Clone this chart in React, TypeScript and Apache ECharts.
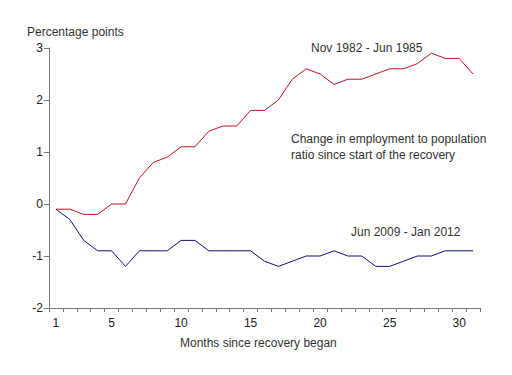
import React, { useEffect, useRef } from "react";
import * as echarts from "echarts";

const months: string[] = Array.from({ length: 31 }, (_, i) => String(i + 1));
const labeledMonths: number[] = [1, 5, 10, 15, 20, 25, 30];
const yTicks = { min: -2, max: 3, interval: 1 };

const recovery1982: number[] = [
  -0.1, -0.1, -0.2, -0.2, 0, 0, 0.5, 0.8, 0.9, 1.1, 1.1, 1.4, 1.5, 1.5, 1.8, 1.8,
  2.0, 2.4, 2.6, 2.5, 2.3, 2.4, 2.4, 2.5, 2.6, 2.6, 2.7, 2.9, 2.8, 2.8, 2.5,
];
const recovery2009: number[] = [
  -0.1, -0.3, -0.7, -0.9, -0.9, -1.2, -0.9, -0.9, -0.9, -0.7, -0.7, -0.9, -0.9, -0.9, -0.9, -1.1,
  -1.2, -1.1, -1.0, -1.0, -0.9, -1.0, -1.0, -1.2, -1.2, -1.1, -1.0, -1.0, -0.9, -0.9, -0.9,
];

const FONT = "'Liberation Sans', Arial, sans-serif";
const TEXT = "#333333";

export default function App() {
  const ref = useRef<HTMLDivElement>(null);
  useEffect(() => {
    if (!ref.current) return;
    const chart = echarts.init(ref.current, null, { renderer: "svg" });
    chart.setOption({
      animation: false,
      backgroundColor: "#ffffff",
      grid: { left: 49, right: 32, top: 48, bottom: 67 },
      xAxis: {
        type: "category",
        data: months,
        boundaryGap: true,
        axisLine: { onZero: false, lineStyle: { color: "#777777", width: 1 } },
        axisTick: { show: true, interval: 0, length: 4, lineStyle: { color: "#777777" } },
        axisLabel: {
          interval: (idx: number) => labeledMonths.includes(idx + 1),
          color: "#222222",
          fontFamily: FONT,
          fontSize: 12,
          margin: 9,
        },
        splitLine: { show: false },
      },
      yAxis: {
        type: "value",
        min: yTicks.min,
        max: yTicks.max,
        interval: yTicks.interval,
        axisLine: { show: true, onZero: false, lineStyle: { color: "#777777", width: 1 } },
        axisTick: { show: true, length: 5, lineStyle: { color: "#777777" } },
        axisLabel: { color: "#222222", fontFamily: FONT, fontSize: 12, margin: 6 },
        splitLine: { show: false },
      },
      series: [
        {
          type: "line",
          data: recovery1982,
          symbol: "none",
          lineStyle: { color: "#c0141e", width: 1 },
        },
        {
          type: "line",
          data: recovery2009,
          symbol: "none",
          lineStyle: { color: "#10107a", width: 1 },
        },
      ],
      graphic: [
        {
          type: "text",
          left: 27,
          top: 26,
          style: { text: "Percentage points", fill: TEXT, font: `12px ${FONT}` },
        },
        {
          type: "text",
          left: 311,
          top: 42,
          style: { text: "Nov 1982 - Jun 1985", fill: TEXT, font: `12px ${FONT}` },
        },
        {
          type: "text",
          left: 291,
          top: 131,
          style: {
            text: "Change in employment to population\nratio since start of the recovery",
            fill: TEXT,
            font: `12px ${FONT}`,
            lineHeight: 16,
          },
        },
        {
          type: "text",
          left: 351,
          top: 226,
          style: { text: "Jun 2009 - Jan 2012", fill: TEXT, font: `12px ${FONT}` },
        },
        {
          type: "text",
          left: 180,
          top: 337,
          style: { text: "Months since recovery began", fill: TEXT, font: `12px ${FONT}` },
        },
      ],
    });
    return () => chart.dispose();
  }, []);
  return <div ref={ref} style={{ width: 512, height: 375, margin: -8 }} />;
}
